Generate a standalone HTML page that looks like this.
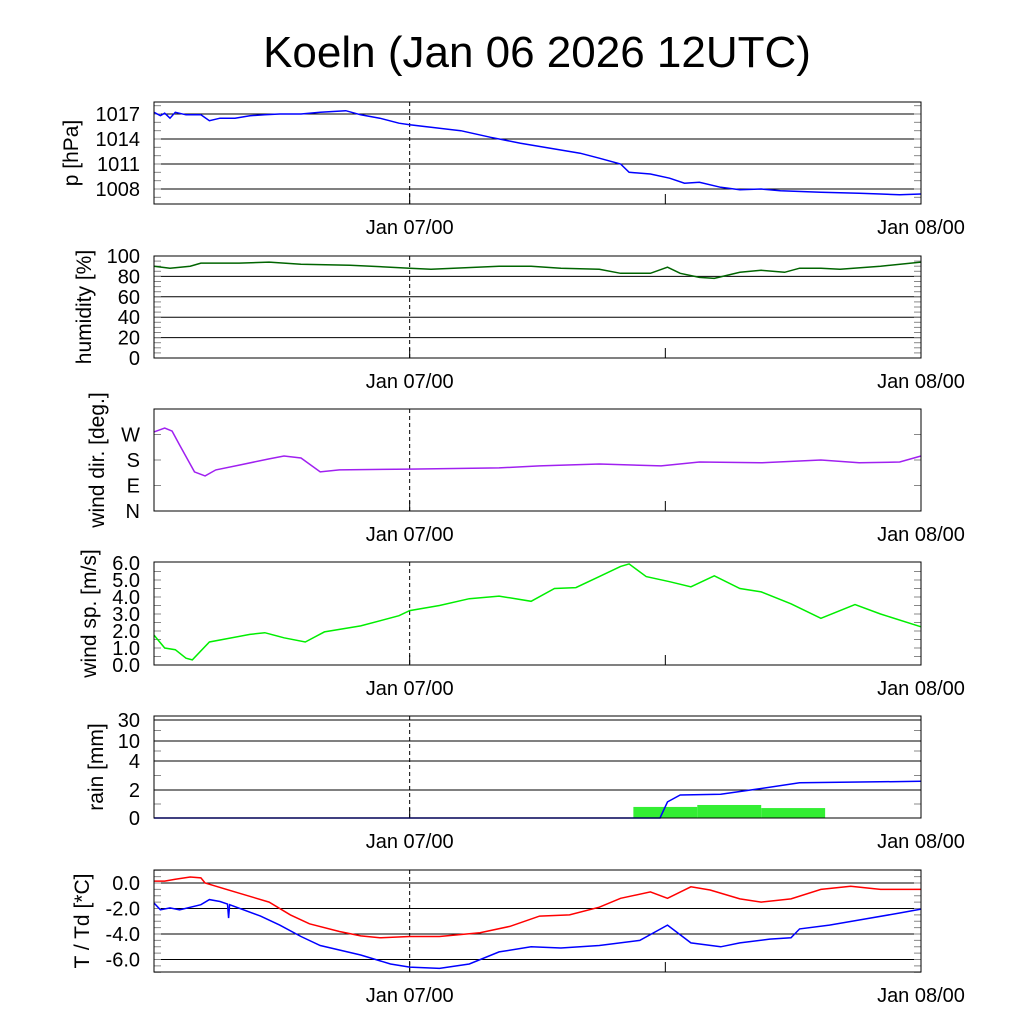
<!DOCTYPE html>
<html><head><meta charset="utf-8"><style>
html,body{margin:0;padding:0;background:#fff}
svg{display:block;font-family:"Liberation Sans",sans-serif}
</style></head><body>
<svg id="chart" width="1024" height="1024" viewBox="0 0 1024 1024">
<text x="537" y="67" font-size="44" text-anchor="middle">Koeln (Jan 06 2026 12UTC)</text>
</svg>
<script>
// time axis in hours since Jan 06 12UTC
const xTickHours = [12, 24, 36];
const xTickLabels = ["Jan 07/00", "", "Jan 08/00"];

const pT = [0,0.3,0.5,0.75,1,1.5,2.2,2.6,3.1,3.8,4.5,5.2,5.9,6.9,7.8,9,9.7,10.6,11.5,12,13,14.4,15.8,17.2,18.6,20,20.9,21.9,22.3,23.3,24.2,24.9,25.6,26.6,27.5,28.5,29.4,31.3,33.1,34.1,35,36];
const pV = [1017.2,1016.8,1017.1,1016.5,1017.2,1016.9,1016.9,1016.2,1016.5,1016.5,1016.8,1016.9,1017,1017,1017.2,1017.4,1016.9,1016.5,1015.9,1015.7,1015.4,1015,1014.2,1013.5,1012.9,1012.3,1011.7,1011,1010,1009.8,1009.3,1008.7,1008.8,1008.2,1007.9,1008,1007.8,1007.6,1007.5,1007.4,1007.3,1007.4];

const hT = [0,0.75,1.7,2.2,2.9,4,5.4,6.9,9.2,12,13,16.2,17.7,19.1,20.9,21.9,23.3,24.1,24.7,25.6,26.3,27.5,28.5,29.6,30.3,31.3,32.2,34.1,36];
const hV = [90,88,90,93,93,93,94,92,91,88,87,90,90,88,87,83,83,89,83,79,78,84,86,84,88,88,87,90,94];

const dT = [0,0.5,0.85,1.2,1.9,2.4,2.9,4,5.4,6.1,6.9,7.8,8.7,12,16.2,18.1,20.9,23.8,25.6,28.5,31.3,33.1,35,36];
const dV = [279,293,282,233,138,124,145,162,184,194,187,138,145,148,152,159,166,159,173,170,180,170,173,194];

const sT = [0,0.5,1,1.5,1.8,2.6,4.5,5.2,6.1,7.1,8,9.7,11.5,12,13.4,14.8,16.2,17.7,18.8,19.8,20.9,21.9,22.3,23.1,24.2,25.2,26.3,27.5,28.5,29.9,31.3,32.9,34.1,36];
const sV = [1.76,1.0,0.9,0.4,0.3,1.35,1.8,1.9,1.6,1.35,1.95,2.3,2.9,3.2,3.5,3.9,4.05,3.75,4.5,4.55,5.2,5.8,5.95,5.2,4.9,4.6,5.25,4.5,4.3,3.6,2.75,3.55,3.0,2.25];

const rainBarT = [22.5,25.5,28.5];
const rainBarV = [0.79,0.93,0.71];
const rainCumT = [0,23.75,24.1,24.7,26.6,28.5,30.3,36];
const rainCumV = [0,0,1.15,1.64,1.7,2.1,2.5,2.6];

const tT = [0,0.5,1,1.7,2.2,2.4,2.9,4,5.4,6.4,7.3,8.7,9.7,10.6,12,13.4,15.3,16.7,18.1,19.5,20.9,21.9,23.3,24.1,25.2,26.1,27.5,28.5,29.9,31.3,32.7,34.1,36];
const tV = [0.15,0.15,0.3,0.47,0.4,0,-0.25,-0.8,-1.5,-2.5,-3.2,-3.8,-4.15,-4.3,-4.2,-4.2,-3.9,-3.4,-2.6,-2.5,-1.9,-1.2,-0.7,-1.2,-0.3,-0.55,-1.25,-1.5,-1.25,-0.5,-0.25,-0.5,-0.5];
const tdT = [0,0.3,0.75,1.2,2.2,2.6,3.1,3.45,3.5,3.55,5,5.9,6.9,7.8,9.7,11.1,12,13.4,14.8,16.2,17.7,19.1,20.9,22.8,24.1,25.2,26.6,27.5,28.9,29.9,30.3,31.7,33.1,35,36];
const tdV = [-1.57,-2.1,-1.95,-2.1,-1.7,-1.3,-1.45,-1.65,-2.75,-1.7,-2.6,-3.3,-4.2,-4.9,-5.65,-6.35,-6.6,-6.7,-6.35,-5.4,-5.0,-5.1,-4.9,-4.5,-3.3,-4.7,-5.0,-4.7,-4.4,-4.3,-3.6,-3.3,-2.9,-2.35,-2.05];

const NS = "http://www.w3.org/2000/svg";
const svg = document.getElementById("chart");
const X0 = 154, X1 = 921, TMAX = 36;
const xs = h => X0 + (X1 - X0) * h / TMAX;

function el(tag, attrs, parent) {
  const e = document.createElementNS(NS, tag);
  for (const k in attrs) e.setAttribute(k, attrs[k]);
  (parent || svg).appendChild(e);
  return e;
}

function makePanel(cfg) {
  const g = el("g", {});
  
  
  cfg.gridVals.forEach(v => {
    const y = cfg.ys(v);
    const l = el("line", {x1: X0, x2: X1, y1: y, y2: y, stroke: "#000", "stroke-width": 1}, g);
    
    
  });
  cfg.minor.forEach(v => {
    const y = cfg.ys(v);
    el("line", {x1: X0, x2: X0 + 7, y1: y, y2: y, stroke: "#888", "stroke-width": 1}, g);
    el("line", {x1: X1 - 7, x2: X1, y1: y, y2: y, stroke: "#888", "stroke-width": 1}, g);
  });
  cfg.labels.forEach((t, i) => {
    const tx = el("text", {x: 140, y: cfg.ys(cfg.labelVals[i]) + 7, "font-size": 20, "text-anchor": "end"}, g);
    tx.textContent = t;
    
    
  });
  const dl = el("line", {x1: xs(12), x2: xs(12), y1: cfg.top, y2: cfg.bot, stroke: "#000", "stroke-dasharray": "4,3"}, g);
  
  
  xTickHours.forEach((h, i) => {
    el("line", {x1: xs(h), x2: xs(h), y1: cfg.bot - 10, y2: cfg.bot, stroke: "#000"}, g);
    if (xTickLabels[i]) {
      const tx = el("text", {x: xs(h), y: cfg.bot + 30, "font-size": 20, "text-anchor": "middle"}, g);
      tx.textContent = xTickLabels[i];
      
      
    }
  });
  cfg.draw(g);
  const fr = el("rect", {x: X0, y: cfg.top, width: X1 - X0, height: cfg.bot - cfg.top, fill: "none", stroke: "#000", "stroke-width": 1}, g);
  
  
  const mid = (cfg.top + cfg.bot) / 2;
  const at = el("text", {x: cfg.titleX, y: mid, "font-size": 21, "text-anchor": "middle", transform: `rotate(-90 ${cfg.titleX} ${mid})`}, g);
  at.textContent = cfg.title;
  
  
}

function line(g, T, V, ys, color, name) {
  const d = T.map((t, i) => (i ? "L" : "M") + xs(t).toFixed(1) + "," + ys(V[i]).toFixed(1)).join("");
  const p = el("path", {d, fill: "none", stroke: color, "stroke-width": 1.5}, g);
  
  
}
const range = (a, b, s) => { const r = []; for (let v = a; v <= b + 1e-9; v += s) r.push(+v.toFixed(3)); return r; };

{ const ys = v => 114 + (1017 - v) * 8.333;
  makePanel({name: "pressure", top: 102, bot: 204, ys, title: "p [hPa]", titleX: 78,
    gridVals: [1017, 1014, 1011, 1008], labelVals: [1017, 1014, 1011, 1008], labels: ["1017", "1014", "1011", "1008"],
    minor: range(1007, 1018, 1),
    draw: g => line(g, pT, pV, ys, "#0000ff", "pressure-line")}); }
{ const ys = v => 358 - v * 1.02;
  makePanel({name: "humidity", top: 256, bot: 358, ys, title: "humidity [%]", titleX: 91,
    gridVals: [80, 60, 40, 20], labelVals: [100, 80, 60, 40, 20, 0], labels: ["100", "80", "60", "40", "20", "0"],
    minor: range(5, 95, 5),
    draw: g => line(g, hT, hV, ys, "#006400", "humidity-line")}); }
{ const ys = v => 511 - v * 102 / 360;
  makePanel({name: "wind-dir", top: 409, bot: 511, ys, title: "wind dir. [deg.]", titleX: 104,
    gridVals: [], labelVals: [270, 180, 90, 0], labels: ["W", "S", "E", "N"],
    minor: [90, 180, 270],
    draw: g => line(g, dT, dV, ys, "#a020f0", "wind-dir-line")}); }
{ const ys = v => 665 - v * 17;
  makePanel({name: "wind-speed", top: 562, bot: 665, ys, title: "wind sp. [m/s]", titleX: 96,
    gridVals: [], labelVals: [6, 5, 4, 3, 2, 1, 0], labels: ["6.0", "5.0", "4.0", "3.0", "2.0", "1.0", "0.0"],
    minor: range(0.5, 5.5, 0.5),
    draw: g => line(g, sT, sV, ys, "#00ee00", "wind-speed-line")}); }
{ const rv = [0, 2, 4, 10, 30], ry = [818, 790, 761, 741, 720];
  const ys = v => { for (let i = 0; i < rv.length - 1; i++) if (v <= rv[i + 1]) return ry[i] + (v - rv[i]) / (rv[i + 1] - rv[i]) * (ry[i + 1] - ry[i]); return 720; };
  makePanel({name: "rain", top: 716, bot: 818, ys, title: "rain [mm]", titleX: 103,
    gridVals: [30, 10, 4, 2], labelVals: [30, 10, 4, 2, 0], labels: ["30", "10", "4", "2", "0"],
    minor: [1, 3, 7, 20],
    draw: g => {
      rainBarT.forEach((t, i) => {
        const y = ys(rainBarV[i]);
        const r = el("rect", {x: xs(t), y, width: xs(t + 3) - xs(t), height: 818 - y, fill: "#33ee33"}, g);
        
        
      });
      line(g, rainCumT, rainCumV, ys, "#0000ff", "rain-cumulative-line");
    }}); }
{ const ys = v => 883 - v * 12.75;
  makePanel({name: "temperature", top: 870, bot: 972, ys, title: "T / Td [*C]", titleX: 89,
    gridVals: [0, -2, -4, -6], labelVals: [0, -2, -4, -6], labels: ["0.0", "-2.0", "-4.0", "-6.0"],
    minor: range(-7, 1, 0.5),
    draw: g => { line(g, tT, tV, ys, "#ff0000", "temperature-line"); line(g, tdT, tdV, ys, "#0000ff", "dewpoint-line"); }}); }
</script>
</body></html>
